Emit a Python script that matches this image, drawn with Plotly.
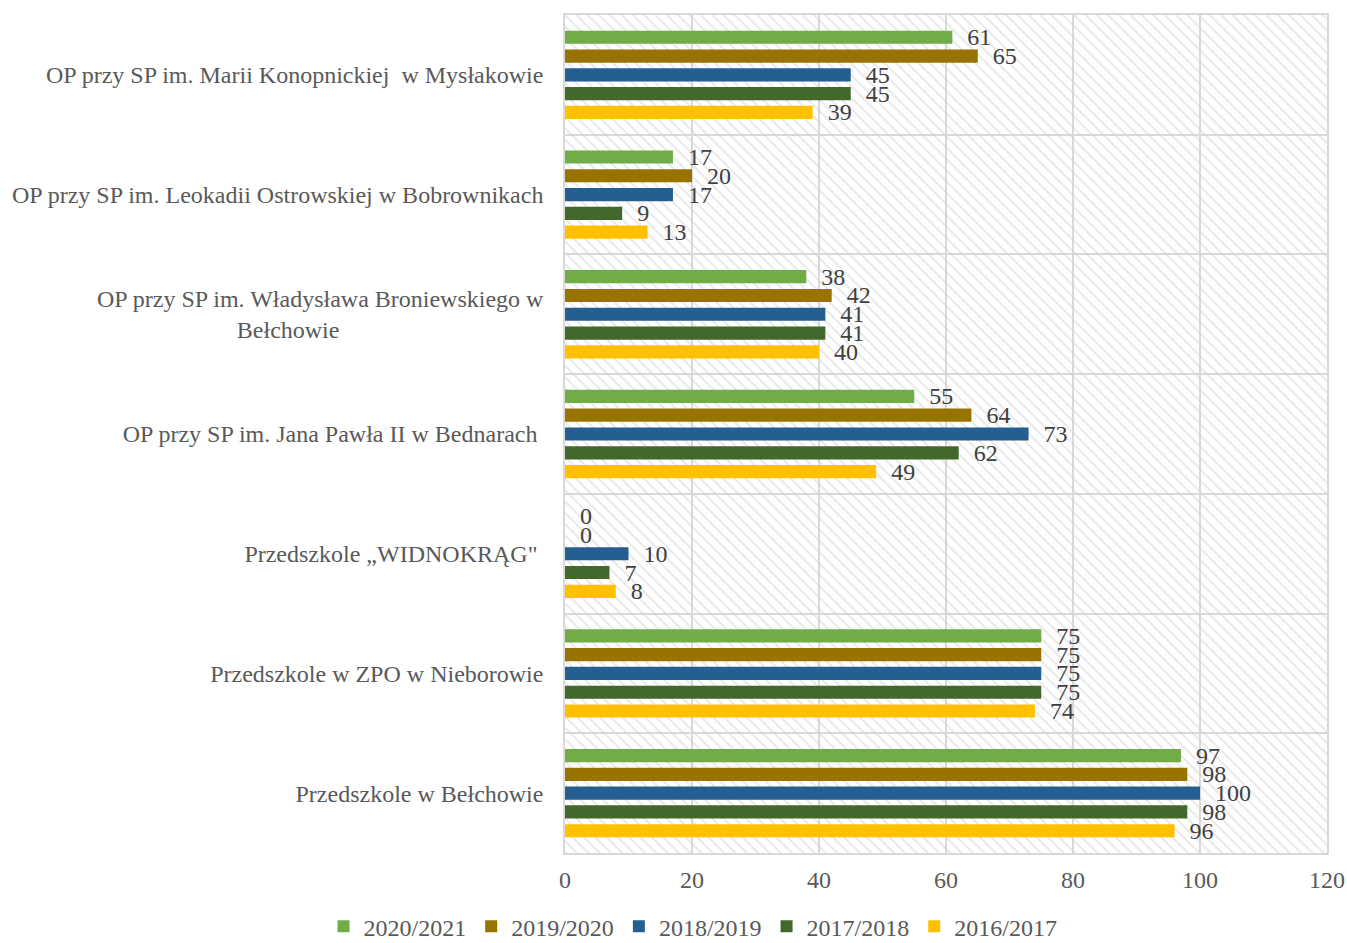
import plotly.graph_objects as go

categories = [
    "OP przy SP im. Marii Konopnickiej  w Mysłakowie",
    "OP przy SP im. Leokadii Ostrowskiej w Bobrownikach",
    "OP przy SP im. Władysława Broniewskiego w<br>Bełchowie" + "\u00a0" * 34,
    "OP przy SP im. Jana Pawła II w Bednarach\u00a0",
    "Przedszkole „WIDNOKRĄG\"\u00a0",
    "Przedszkole w ZPO w Nieborowie",
    "Przedszkole w Bełchowie",
]

series_names = ["2020/2021", "2019/2020", "2018/2019", "2017/2018", "2016/2017"]
s2020_2021 = [61, 17, 38, 55, 0, 75, 97]
s2019_2020 = [65, 20, 42, 64, 0, 75, 98]
s2018_2019 = [45, 17, 41, 73, 10, 75, 100]
s2017_2018 = [45, 9, 41, 62, 7, 75, 98]
s2016_2017 = [39, 13, 40, 49, 8, 74, 96]
series_values = [s2020_2021, s2019_2020, s2018_2019, s2017_2018, s2016_2017]
colors = ["#70AD47", "#997300", "#255E91", "#43682B", "#FFC000"]

x_max = 120
FONT = "Liberation Serif, Times New Roman, serif"
FS = 24

fig = go.Figure()

# hatched plot background
fig.add_trace(go.Bar(
    y=categories, x=[x_max] * len(categories), orientation="h",
    width=1, offset=-0.5,
    marker=dict(color="rgba(0,0,0,0)", line=dict(width=0),
                pattern=dict(shape="\\", fgcolor="#d2d2d2", fillmode="overlay",
                             size=8, solidity=0.24)),
    showlegend=False, hoverinfo="skip",
))

pitch = 0.157
bw = 0.11
for k, (name, vals, col) in enumerate(zip(series_names, series_values, colors)):
    fig.add_trace(go.Bar(
        name=name, y=categories, x=vals, orientation="h",
        width=bw, offset=(k - 2) * pitch - bw / 2,
        marker=dict(color=col, line=dict(width=0)),
        text=vals, texttemplate="\u00a0\u00a0%{x}", textposition="outside",
        constraintext="none",
        textfont=dict(family=FONT, size=FS, color="#404040"),
        cliponaxis=False,
    ))

fig.update_layout(
    width=1347, height=943,
    barmode="overlay",
    plot_bgcolor="white", paper_bgcolor="white",
    font=dict(family=FONT, size=FS, color="#595959"),
    margin=dict(l=565, r=20, t=15, b=90, autoexpand=False),
    legend=dict(orientation="h", xref="container", yref="paper",
                x=0.5145, xanchor="center", y=-0.088, yanchor="middle",
                font=dict(family=FONT, size=FS, color="#595959"),
                itemwidth=30, traceorder="normal"),
    showlegend=True,
)
fig.update_xaxes(range=[0, x_max], dtick=20, showgrid=True, gridcolor="#d9d9d9",
                 gridwidth=1.5, zeroline=False, showline=True, linecolor="#d9d9d9",
                 linewidth=1.5, mirror=True, ticks="", automargin=False,
                 ticklabelstandoff=4,
                 tickfont=dict(family=FONT, size=FS, color="#595959"))
fig.update_yaxes(autorange="reversed", showgrid=True, gridcolor="#d9d9d9", gridwidth=1.5,
                 tickson="boundaries", ticks="", showline=True, linecolor="#d9d9d9",
                 linewidth=1.5, mirror=True, ticklabelstandoff=15, automargin=False,
                 tickfont=dict(family=FONT, size=FS, color="#595959"))

fig.write_html(
    "out.html",
    config={"displayModeBar": False},
    post_script="document.body.style.margin='0';document.body.style.overflow='hidden';",
)
